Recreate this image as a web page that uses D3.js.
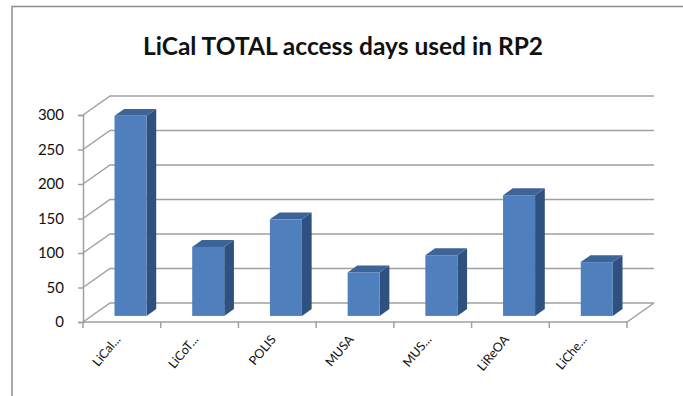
<!DOCTYPE html>
<html>
<head>
<meta charset="utf-8">
<script src="https://cdn.jsdelivr.net/npm/d3@7"></script>
<style>
  body { margin: 0; background: #fff; }
  svg text { font-family: Lato, "Open Sans", sans-serif; }
</style>
</head>
<body>
<svg id="chart" width="683" height="396"></svg>
<script>
var categories = ['LiCal...', 'LiCoT...', 'POLIS', 'MUSA', 'MUS...', 'LiReOA', 'LiChe...'];
var values = [290, 100, 140, 63, 88, 175, 78];
var tickValues = [0, 50, 100, 150, 200, 250, 300];
var title = 'LiCal TOTAL access days used in RP2';

var svg = d3.select('#chart');

// floor front edge and depth of the 3d box
var x0 = 83, x1 = 627;
var depth = [27, -19];
var barFront = 0.32, barBack = 0.68;

var x = d3.scaleBand().domain(categories).range([x0, x1])
  .paddingInner(0.588).paddingOuter(0.294);
var y = d3.scaleLinear().domain([0, 300]).range([322, 115]);

// outer frame (top and left only)
svg.append('path')
  .attr('d', 'M12,396 L12,6.5 L683,6.5')
  .attr('fill', 'none').attr('stroke', '#8c8c8c').attr('stroke-width', 1.5);

svg.append('text')
  .attr('x', 343).attr('y', 55)
  .attr('text-anchor', 'middle')
  .attr('font-size', 24.5).attr('font-weight', 'bold')
  .attr('fill', '#111')
  .text(title);

var grid = svg.append('g').attr('stroke', '#a0a0a0').attr('stroke-width', 1.5).attr('fill', 'none');

// back wall gridlines + the diagonals on the side wall
tickValues.forEach(function (v) {
  grid.append('path')
    .attr('d', 'M' + x0 + ',' + y(v) + ' L' + (x0 + depth[0]) + ',' + (y(v) + depth[1]) +
      ' L' + (x1 + depth[0]) + ',' + (y(v) + depth[1]));
});
// floor front + right edge
grid.append('path')
  .attr('d', 'M' + x0 + ',' + y(0) + ' L' + x1 + ',' + y(0) + ' L' + (x1 + depth[0]) + ',' + (y(0) + depth[1]));

// y axis
var yAxis = svg.append('g')
  .attr('transform', 'translate(' + x0 + ',0)')
  .call(d3.axisLeft(y).tickValues(tickValues).tickSize(5).tickPadding(14));
yAxis.select('.domain').attr('stroke', '#a0a0a0').attr('stroke-width', 1.5);
yAxis.selectAll('.tick line').attr('stroke', '#a0a0a0').attr('stroke-width', 1.5);
yAxis.selectAll('.tick text').attr('font-size', 15).attr('fill', '#111')
  .attr('font-family', 'Lato, sans-serif');

// x axis ticks at band edges
var step = x.step();
var edges = d3.range(categories.length + 1).map(function (i) { return x0 + i * step; });
svg.append('g').selectAll('line').data(edges).join('line')
  .attr('x1', function (d) { return d; }).attr('x2', function (d) { return d; })
  .attr('y1', y(0)).attr('y2', y(0) + 6)
  .attr('stroke', '#a0a0a0').attr('stroke-width', 1.5);

// category labels
svg.append('g').selectAll('text').data(categories).join('text')
  .attr('transform', function (d) {
    return 'translate(' + (x(d) + x.bandwidth() / 2 - 4) + ',' + (y(0) + 15) + ') rotate(-50)';
  })
  .attr('text-anchor', 'end')
  .attr('dy', '0.35em')
  .attr('font-size', 12.5).attr('fill', '#111')
  .text(function (d) { return d; });

// 3d bars
var bars = svg.append('g');
categories.forEach(function (c, i) {
  var v = values[i];
  var fx = x(c) + barFront * depth[0], bx = x(c) + barBack * depth[0];
  var fw = x.bandwidth();
  var fyTop = y(v) + barFront * depth[1], fyBot = y(0) + barFront * depth[1];
  var byTop = y(v) + barBack * depth[1], byBot = y(0) + barBack * depth[1];
  // side
  bars.append('path')
    .attr('d', 'M' + (fx + fw) + ',' + fyTop + ' L' + (bx + fw) + ',' + byTop +
      ' L' + (bx + fw) + ',' + byBot + ' L' + (fx + fw) + ',' + fyBot + 'Z')
    .attr('fill', '#2f5180');
  // top
  bars.append('path')
    .attr('d', 'M' + fx + ',' + fyTop + ' L' + bx + ',' + byTop +
      ' L' + (bx + fw) + ',' + byTop + ' L' + (fx + fw) + ',' + fyTop + 'Z')
    .attr('fill', '#3c6497');
  // front
  bars.append('rect')
    .attr('x', fx).attr('y', fyTop)
    .attr('width', fw).attr('height', fyBot - fyTop)
    .attr('fill', '#4f80bd');
});
</script>
</body>
</html>
